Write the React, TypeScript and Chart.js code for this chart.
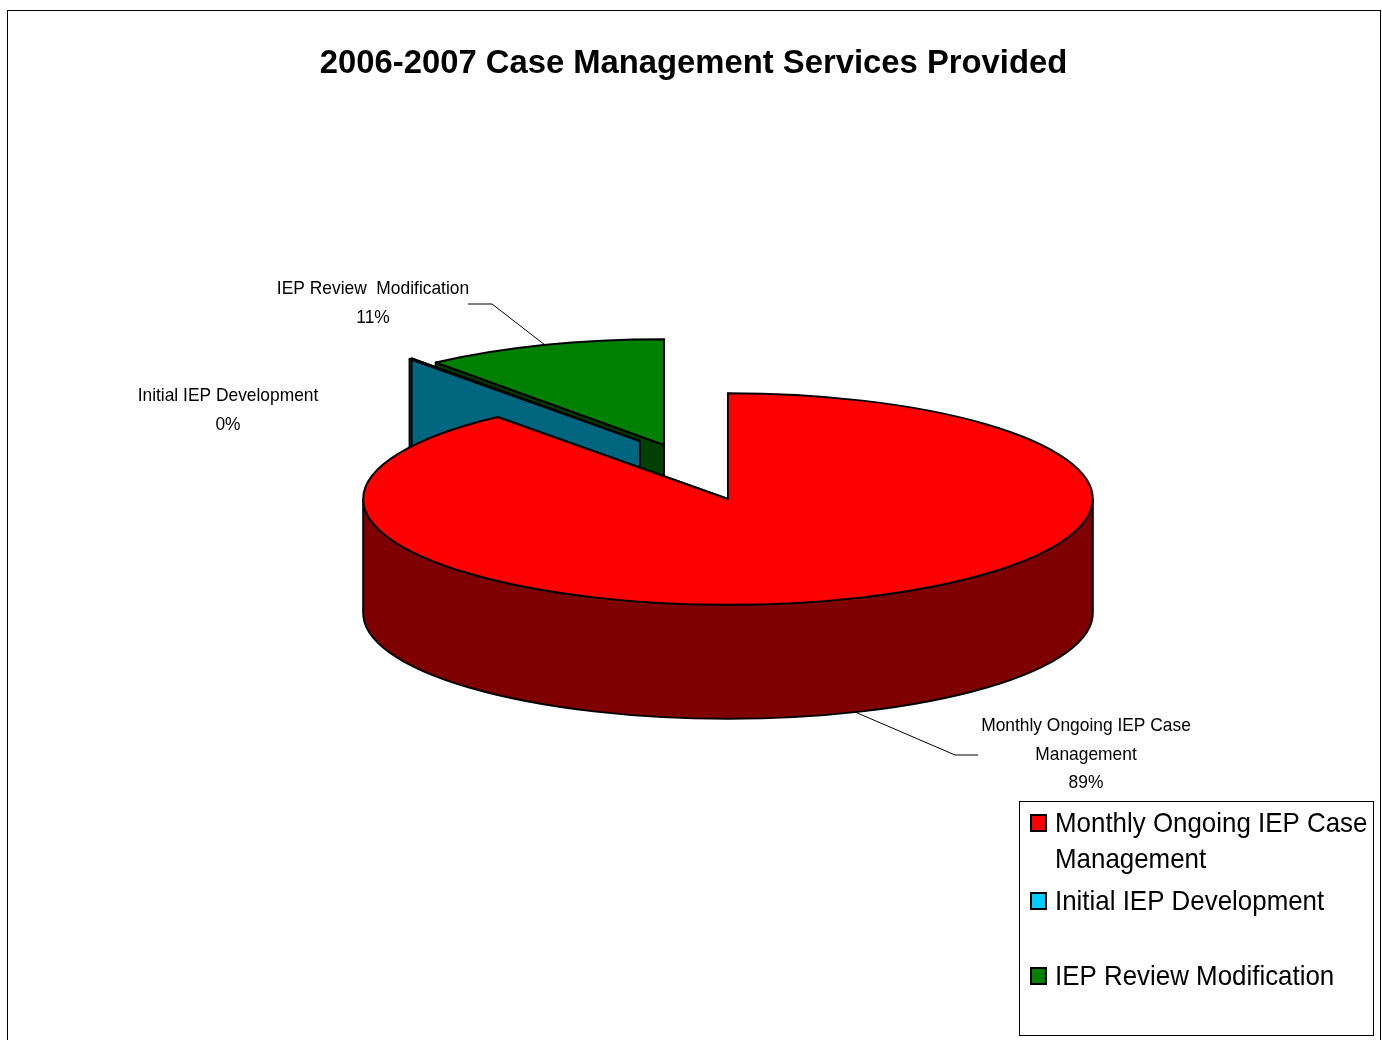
import React, { useEffect, useRef } from "react";
import { Chart, registerables } from "chart.js";

Chart.register(...registerables);

const chartTitle = "2006-2007 Case Management Services Provided";
const categories = ["Monthly Ongoing IEP Case Management", "Initial IEP Development", "IEP Review Modification"];
const shareValues = [89.12, 0.12, 10.76];
const faceColors = ["#FF0000", "#00CCFF", "#008000"];
const wallColors = ["#7F0000", "#006680", "#004000"];
const dataLabelLines = [
  ["Monthly Ongoing IEP Case", "Management"],
  ["Initial IEP Development"],
  ["IEP Review  Modification"],
];
const legendLines = [["Monthly Ongoing IEP Case", "Management"], ["Initial IEP Development"], ["IEP Review Modification"]];

const FONT = '"Liberation Sans", Arial, sans-serif';
const PIE = { x: 728, y: 499, squash: 0.29, depth: 114 };
const EXPLODE = [[0, 0], [-88, -58], [-64, -54]];
const LABEL_POS = [
  { x: 1086, y: 726 },
  { x: 228, y: 396 },
  { x: 373, y: 289 },
];
const LEADERS = [
  [[855, 712], [955, 755], [978, 755]],
  [],
  [[545, 345], [492, 304], [468, 304]],
];
const LEGEND_BOX = { x: 1019.5, y: 801.5, w: 354, h: 234 };
const LEGEND_SWATCH_X = 1031;
const LEGEND_TEXT_X = 1055;
const LEGEND_Y = [[824, 860], [902], [977]];

function text(ctx: CanvasRenderingContext2D, s: string, x: number, y: number, size: number, sx: number, align: CanvasTextAlign) {
  ctx.save();
  ctx.translate(x, y);
  ctx.scale(sx, 1);
  ctx.font = `${size}px ${FONT}`;
  ctx.fillStyle = "#000";
  ctx.textAlign = align;
  ctx.textBaseline = "middle";
  ctx.fillText(s, 0, 0);
  ctx.restore();
}

const pie3d = {
  id: "pie3d",
  beforeDraw(chart: any) {
    const { ctx, width, height } = chart;
    ctx.save();
    ctx.fillStyle = "#fff";
    ctx.fillRect(0, 0, width, height);
    ctx.strokeStyle = "#000";
    ctx.lineWidth = 1;
    ctx.strokeRect(7.5, 10.5, 1373, 1100);
    ctx.restore();
  },
  beforeDatasetsDraw(chart: any) {
    const { ctx } = chart;
    const arcs = chart.getDatasetMeta(0).data;
    ctx.save();
    ctx.lineJoin = "round";
    ctx.strokeStyle = "#000";
    ctx.lineWidth = 2;
    for (let i = arcs.length - 1; i >= 0; i--) {
      const arc = arcs[i];
      const r = arc.outerRadius;
      const ry = r * PIE.squash;
      const cx = PIE.x + EXPLODE[i][0];
      const cy = PIE.y + EXPLODE[i][1];
      const s = arc.startAngle;
      const e = arc.endAngle;
      const d = PIE.depth;
      ctx.fillStyle = wallColors[i];
      // straight side walls
      for (const a of [s, e]) {
        const px = cx + Math.cos(a) * r;
        const py = cy + Math.sin(a) * ry;
        ctx.beginPath();
        ctx.moveTo(cx, cy);
        ctx.lineTo(px, py);
        ctx.lineTo(px, py + d);
        ctx.lineTo(cx, cy + d);
        ctx.closePath();
        ctx.fill();
        ctx.stroke();
      }
      // rim wall, only the part that faces the viewer
      const a0 = Math.max(s, 0);
      const a1 = Math.min(e, Math.PI);
      if (a1 > a0) {
        ctx.beginPath();
        ctx.ellipse(cx, cy, r, ry, 0, a0, a1);
        ctx.ellipse(cx, cy + d, r, ry, 0, a1, a0, true);
        ctx.closePath();
        ctx.fill();
        ctx.stroke();
      }
      // top face
      ctx.fillStyle = faceColors[i];
      ctx.beginPath();
      ctx.moveTo(cx, cy);
      ctx.ellipse(cx, cy, r, ry, 0, s, e);
      ctx.closePath();
      ctx.fill();
      ctx.stroke();
    }
    ctx.restore();
    return false;
  },
  afterDraw(chart: any) {
    const { ctx } = chart;
    const total = shareValues.reduce((a, b) => a + b, 0);
    ctx.save();
    // leader lines
    ctx.strokeStyle = "#000";
    ctx.lineWidth = 1;
    for (const pts of LEADERS) {
      if (!pts.length) continue;
      ctx.beginPath();
      pts.forEach((p, i) => (i ? ctx.lineTo(p[0], p[1]) : ctx.moveTo(p[0], p[1])));
      ctx.stroke();
    }
    // data labels
    dataLabelLines.forEach((lines, i) => {
      const pct = `${Math.round((shareValues[i] / total) * 100)}%`;
      [...lines, pct].forEach((line, j) => {
        text(ctx, line, LABEL_POS[i].x, LABEL_POS[i].y + j * 28.4, 19, 0.915, "center");
      });
    });
    // legend
    ctx.strokeStyle = "#000";
    ctx.lineWidth = 1;
    ctx.fillStyle = "#fff";
    ctx.fillRect(LEGEND_BOX.x, LEGEND_BOX.y, LEGEND_BOX.w, LEGEND_BOX.h);
    ctx.strokeRect(LEGEND_BOX.x, LEGEND_BOX.y, LEGEND_BOX.w, LEGEND_BOX.h);
    legendLines.forEach((lines, i) => {
      ctx.fillStyle = faceColors[i];
      ctx.lineWidth = 2;
      const sy = LEGEND_Y[i][0] - 9;
      ctx.fillRect(LEGEND_SWATCH_X, sy, 15, 16);
      ctx.strokeRect(LEGEND_SWATCH_X, sy, 15, 16);
      lines.forEach((line, j) => {
        text(ctx, line, LEGEND_TEXT_X, LEGEND_Y[i][j], 28, 0.925, "left");
      });
    });
    ctx.restore();
  },
};

export default function App() {
  const ref = useRef<HTMLCanvasElement>(null);
  useEffect(() => {
    document.body.style.margin = "0";
    const chart = new Chart(ref.current!, {
      type: "pie",
      data: {
        labels: categories,
        datasets: [{ data: shareValues, backgroundColor: faceColors, borderColor: "#000", borderWidth: 2, hoverOffset: 0 }],
      },
      options: {
        responsive: false,
        animation: false,
        events: [],
        layout: { padding: { left: 5, right: 0, top: 44, bottom: 208 } },
        plugins: {
          legend: { display: false },
          tooltip: { enabled: false },
          title: {
            display: true,
            text: chartTitle,
            color: "#000",
            font: { family: FONT, size: 32.8, weight: "bold" },
            padding: { top: 0, bottom: 17 },
          },
        },
      },
      plugins: [pie3d],
    } as any);
    return () => chart.destroy();
  }, []);
  return <canvas ref={ref} width={1382} height={1040} style={{ display: "block", width: 1382, height: 1040 }} />;
}
